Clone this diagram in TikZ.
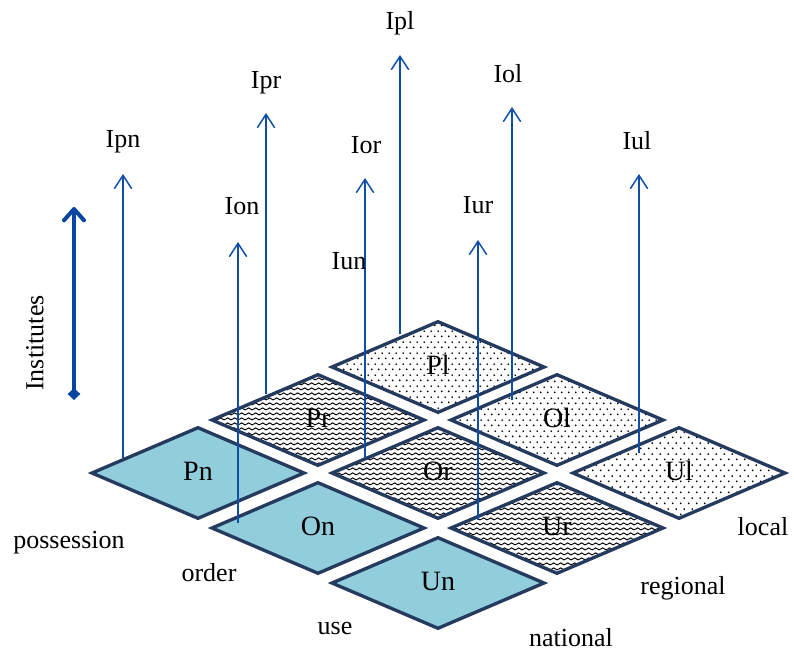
\documentclass[tikz,border=0pt]{standalone}
\usepackage{fontspec}
\setmainfont{Liberation Serif}
\usetikzlibrary{arrows.meta,patterns}

\definecolor{tileborder}{RGB}{36,58,94}
\definecolor{tileblue}{RGB}{146,205,220}
\definecolor{arrowblue}{RGB}{14,78,168}
\definecolor{instblue}{RGB}{6,70,160}

\pgfdeclarepatternformonly{wavy}{\pgfqpoint{0pt}{0pt}}{\pgfqpoint{5.5pt}{3.75pt}}{\pgfqpoint{5.5pt}{3.75pt}}{%
  \pgfsetlinewidth{0.85pt}%
  \pgfpathmoveto{\pgfqpoint{0pt}{1.875pt}}%
  \pgfpathcurveto{\pgfqpoint{0.9pt}{3.05pt}}{\pgfqpoint{1.85pt}{3.05pt}}{\pgfqpoint{2.75pt}{1.875pt}}%
  \pgfpathcurveto{\pgfqpoint{3.65pt}{0.7pt}}{\pgfqpoint{4.6pt}{0.7pt}}{\pgfqpoint{5.5pt}{1.875pt}}%
  \pgfusepath{stroke}%
}
\pgfdeclarepatternformonly{finedots}{\pgfqpoint{0pt}{0pt}}{\pgfqpoint{5.6pt}{8.4pt}}{\pgfqpoint{5.6pt}{8.4pt}}{%
  \pgfpathcircle{\pgfqpoint{1.4pt}{2.1pt}}{0.72pt}%
  \pgfpathcircle{\pgfqpoint{4.2pt}{6.3pt}}{0.72pt}%
  \pgfusepath{fill}%
}

\newcommand\mytile[4]{%
  \coordinate (#1) at (#2,#3);
  \draw[tile,#4,shift={(#1)}] (-106,0) -- (0,-45.3) -- (106,0) -- (0,45.3) -- cycle;
  \node[tilelabel] (#1-label) at ([yshift=-7*0.75pt]#1) {#1};
}

\begin{document}
\begin{tikzpicture}[x=0.75pt,y=-0.75pt,
  tile/.style={draw=tileborder,line width=2.5pt,line join=miter},
  bluetile/.style={fill=tileblue},
  wavetile/.style={fill=white,pattern=wavy},
  dottile/.style={fill=white,pattern=finedots},
  tilelabel/.style={anchor=base,inner sep=0pt,font=\fontsize{21}{25}\selectfont},
  arrlabel/.style={anchor=base,inner sep=0pt,font=\fontsize{19.5}{23}\selectfont},
  axislabel/.style={anchor=base,inner sep=0pt,font=\fontsize{19.5}{23}\selectfont},
  thinarrow/.style={draw=arrowblue,line width=1.1pt,-{Straight Barb[length=10pt,width=13pt]}},
  instarrow/.style={draw=instblue,line width=3pt,{Diamond[length=9pt,width=9.5pt]}-{Straight Barb[length=8.5pt,width=15pt,round]}}
]
\fill[white] (0,0) rectangle (794,651);
\useasboundingbox (0,0) rectangle (794,651);

% tiles
\mytile{Pn}{198}{473}{bluetile}
\mytile{On}{318}{528}{bluetile}
\mytile{Un}{438}{583}{bluetile}
\mytile{Pr}{318}{420}{wavetile}
\mytile{Or}{438}{473}{wavetile}
\mytile{Ur}{557}{528}{wavetile}
\mytile{Pl}{438}{367}{dottile}
\mytile{Ol}{557}{420}{dottile}
\mytile{Ul}{679}{473}{dottile}

% vertical arrows
\coordinate (Ipn-base) at (123,458); \coordinate (Ipn-tip) at (123,174);
\coordinate (Ion-base) at (238,523); \coordinate (Ion-tip) at (238,242);
\coordinate (Ipr-base) at (266,394); \coordinate (Ipr-tip) at (266,113);
\coordinate (Ior-base) at (365,458); \coordinate (Ior-tip) at (365,178);
\coordinate (Ipl-base) at (400,334); \coordinate (Ipl-tip) at (400,55);
\coordinate (Iur-base) at (478,520); \coordinate (Iur-tip) at (478,240);
\coordinate (Iol-base) at (512,400); \coordinate (Iol-tip) at (512,107);
\coordinate (Iul-base) at (639,453); \coordinate (Iul-tip) at (639,174);
\foreach \n in {Ipn,Ion,Ipr,Ior,Ipl,Iur,Iol,Iul}{
  \draw[thinarrow] (\n-base) -- (\n-tip);
}

% arrow labels
\node[arrlabel] (Ipn) at (123,147) {Ipn};
\node[arrlabel] (Ion) at (242,214) {Ion};
\node[arrlabel] (Ipr) at (266,88) {Ipr};
\node[arrlabel] (Ior) at (366,153) {Ior};
\node[arrlabel] (Iun) at (349,269.5) {Iun};
\node[arrlabel] (Ipl) at (400,29.5) {Ipl};
\node[arrlabel] (Iur) at (478,213) {Iur};
\node[arrlabel] (Iol) at (508,82) {Iol};
\node[arrlabel] (Iul) at (637,149) {Iul};

% Institutes axis
\coordinate (inst-bot) at (74,400);
\coordinate (inst-top) at (74,207);
\draw[instarrow] (inst-bot) -- (inst-top);
\node[rotate=90,inner sep=0pt,font=\fontsize{19.5}{23}\selectfont] (inst-label) at (35,343) {Institutes};

% axis labels
\node[axislabel] (possession) at (69,548) {possession};
\node[axislabel] (order) at (209,581) {order};
\node[axislabel] (use) at (335,634) {use};
\node[axislabel] (national) at (571,646) {national};
\node[axislabel] (regional) at (683,594) {regional};
\node[axislabel] (local) at (763,535) {local};
\end{tikzpicture}
\end{document}
